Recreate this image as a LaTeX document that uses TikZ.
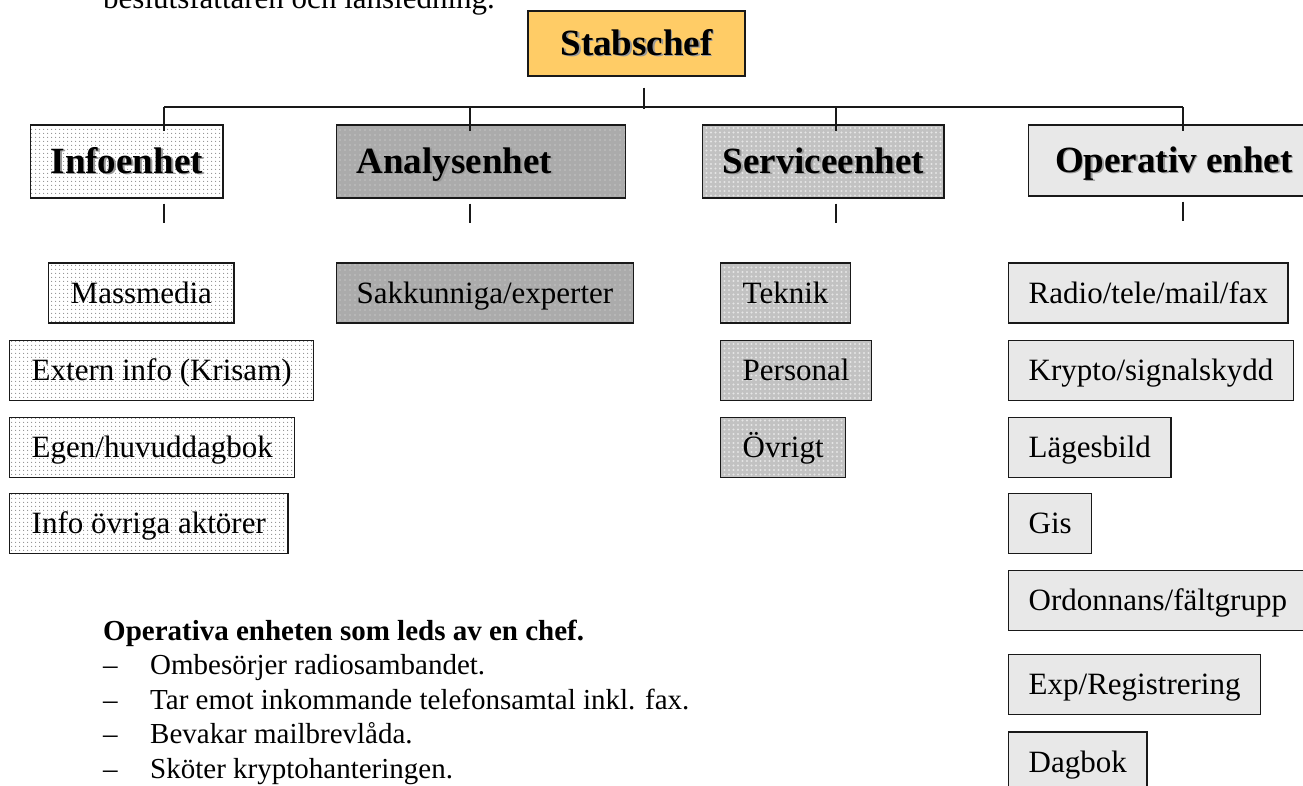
\documentclass[tikz,border=0pt]{standalone}
\usepackage{fontspec}
\setmainfont{Liberation Serif}
\usetikzlibrary{patterns.meta}
\definecolor{chefgul}{RGB}{255,204,102}
\definecolor{opergra}{RGB}{232,232,232}
\newcommand{\skugga}[1]{\makebox[0pt][l]{\kern1.6pt\raisebox{-1.6pt}{\textcolor{black!40}{#1}}}#1}
\tikzset{
  ruta/.style={draw=black!90, line width=1.4pt, inner xsep=22pt, minimum height=60pt,
    anchor=west, text height=24pt, text depth=4pt, font=\fontsize{31}{36}\selectfont},
  rubrik/.style={ruta, minimum height=73pt, inner xsep=20pt, text height=27pt, text depth=4pt,
    font=\fontsize{37}{42}\selectfont\bfseries},
  info/.style={pattern={Dots[distance=4pt,radius=.65pt]}, pattern color=black!45},
  analys/.style={preaction={fill=black!33}, pattern={Dots[distance=5pt,radius=.7pt]}, pattern color=black!12},
  service/.style={preaction={fill=black!24}, pattern={Dots[distance=4.5pt,radius=1.1pt]}, pattern color=black!10},
  oper/.style={fill=opergra},
  linje/.style={line width=1.6pt, black!90},
  lista/.style={anchor=base west, inner sep=0pt, font=\fontsize{29}{33}\selectfont}
}
\begin{document}
\begin{tikzpicture}[x=1pt,y=1pt]
\useasboundingbox (0,0) rectangle (1303,-785);
\node[lista, font=\fontsize{31}{36}\selectfont] (topptext) at (103,-8) {beslutsfattaren och länsledning.};

\node[ruta, rubrik, anchor=center, fill=chefgul, minimum width=217pt, minimum height=65pt] (chef) at (636.5,-43.5) {\skugga{Stabschef}};

% enheter
\node[rubrik, info] (info) at (30,-161.5) {\skugga{Infoenhet}};
\node[rubrik, analys, text width=249pt, align=left] (analys) at (336,-161.5) {\skugga{Analysenhet}};
\node[rubrik, service] (service) at (702,-161.5) {\skugga{Serviceenhet}};
\node[rubrik, oper, inner xsep=18pt, minimum width=290pt, minimum height=71pt, align=left] (oper) at (1028,-160.5) {\skugga{Operativ enhet}};

\coordinate (chef-x) at (644,-109);
\coordinate (info-x) at (164,-107);
\coordinate (analys-x) at (470,-107);
\coordinate (service-x) at (836,-107);
\coordinate (oper-x) at (1183,-107);
\draw[linje] (chef-x |- chef.south) ++(0,-11) -- (chef-x);
\draw[linje] (info-x) -- (oper-x);
\foreach \n in {info,analys,service,oper}{
  \draw[linje] (\n-x) -- (\n-x |- \n.north) -- ++(0,-7);
  \draw[linje] (\n-x |- \n.south) ++(0,-5) -- ++(0,-19);
}

% infoenhet
\node[ruta, info] (massmedia) at (48,-293) {Massmedia};
\node[ruta, info] (extern) at (9,-370.5) {Extern info (Krisam)};
\node[ruta, info] (egen) at (9,-447.5) {Egen/huvuddagbok};
\node[ruta, info] (ovriga) at (9,-523.5) {Info övriga aktörer};

% analysenhet
\node[ruta, analys, inner xsep=20pt] (sakkunniga) at (336,-293) {Sakkunniga/experter};

% serviceenhet
\node[ruta, service] (teknik) at (720,-293) {Teknik};
\node[ruta, service] (personal) at (720,-370.5) {Personal};
\node[ruta, service] (ovrigt) at (720,-447.5) {Övrigt};

% operativ enhet
\node[ruta, oper, inner xsep=20pt] (radio) at (1008,-293) {Radio/tele/mail/fax};
\node[ruta, oper, inner xsep=20pt] (krypto) at (1008,-370.5) {Krypto/signalskydd};
\node[ruta, oper, inner xsep=20pt] (lagesbild) at (1008,-447.5) {Lägesbild};
\node[ruta, oper, inner xsep=20pt] (gis) at (1008,-523.5) {Gis};
\node[ruta, oper, inner xsep=20pt] (ordonnans) at (1008,-600.5) {Ordonnans/fältgrupp};
\node[ruta, oper, inner xsep=20pt] (exp) at (1008,-684.5) {Exp/Registrering};
\node[ruta, oper, inner xsep=20pt] (dagbok) at (1008,-762) {Dagbok};

% text om operativa enheten
\node[lista, font=\fontsize{29}{33}\selectfont\bfseries] (operrubrik) at (103,-640) {Operativa enheten som leds av en chef.};
\foreach \t [count=\i] in {Ombesörjer radiosambandet., Tar emot inkommande telefonsamtal inkl. fax., Bevakar mailbrevlåda., Sköter kryptohanteringen.}{
  \node[lista] (streck-\i) at (103,{-640-34.5*\i}) {--};
  \node[lista] (punkt-\i) at (150,{-640-34.5*\i}) {\t};
}
\end{tikzpicture}
\end{document}
